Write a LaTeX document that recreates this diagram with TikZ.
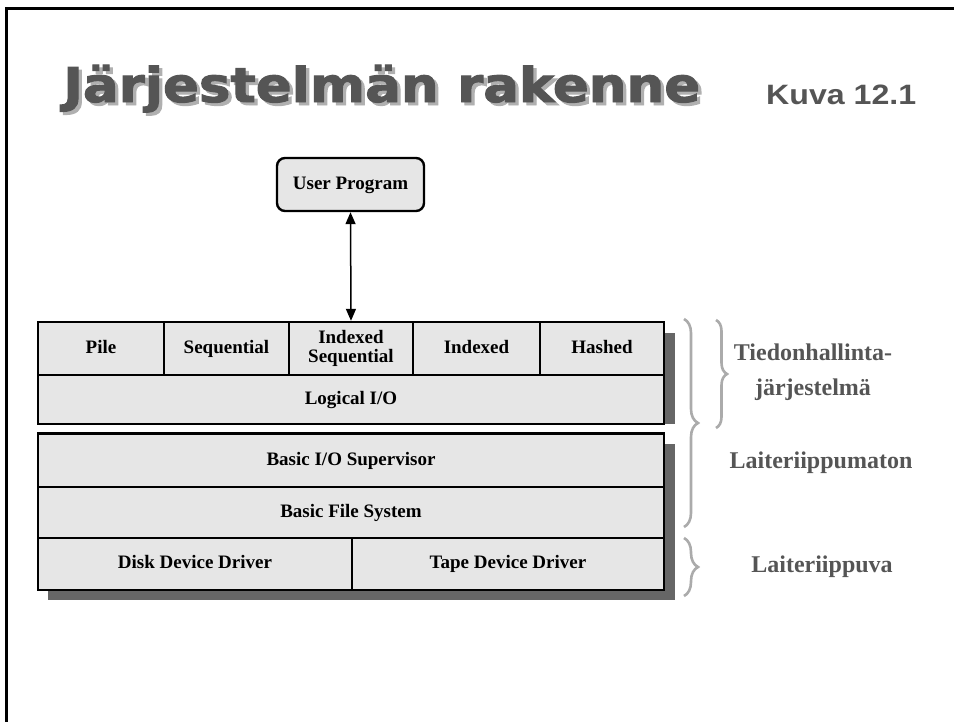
\documentclass[tikz,border=0pt]{standalone}
\usepackage{fontspec}
\setmainfont{Liberation Serif}
\newfontfamily\headfont{DejaVu Sans}[BoldFeatures={FakeBold=2}]
\newfontfamily\figfont{Liberation Sans}
\usetikzlibrary{arrows.meta,decorations.pathreplacing}
\definecolor{cellgray}{HTML}{E6E6E6}
\definecolor{shadegray}{HTML}{666666}
\definecolor{textgray}{HTML}{555555}
\definecolor{bracegray}{HTML}{ABABAB}
\definecolor{titleshade}{HTML}{B0B0B0}
% heading text with a soft offset shadow behind it
\newcommand{\shadowedhead}[1]{%
  \rlap{\kern3pt\raisebox{-3pt}{\color{titleshade}#1}}#1}
\tikzset{
  cell/.style={draw=black, fill=cellgray, line width=2.4pt, inner sep=0pt,
    align=center, text height=13pt, text depth=4pt,
    font=\fontsize{19}{20}\selectfont\bfseries},
  userbox/.style={cell, rounded corners=8pt},
  sidelabel/.style={text=textgray, align=center,
    font=\fontsize{24}{35}\selectfont\bfseries},
  grpbrace/.style={draw=bracegray, line width=2.6pt, decorate,
    decoration={brace, amplitude=#1}},
  shade/.style={fill=shadegray, draw=none},
  link/.style={line width=1.5pt, {Triangle[length=12pt,width=10pt]}-{Triangle[length=12pt,width=10pt]}}
}
\begin{document}
\begin{tikzpicture}[x=1pt, y=-1pt]
\useasboundingbox (0,0) rectangle (954,721);
\fill[white] (0,0) rectangle (954,721);

% slide frame: top and left edges only
\draw[line width=3pt, line cap=rect] (954,8.5) -- (6.5,8.5) -- (6.5,721);

% heading
\node[text=textgray, anchor=base west, inner sep=0pt] (title) at (63,102)
  {\resizebox{637pt}{\height}{\headfont\bfseries\fontsize{48}{52}\selectfont\shadowedhead{Järjestelmän rakenne}}};
\node[text=textgray, anchor=base west, inner sep=0pt] (kuva) at (766,104)
  {\resizebox{150pt}{\height}{\figfont\bfseries\fontsize{28}{30}\selectfont Kuva 12.1}};

% drop shadows of the layer stacks
\fill[shade] (664,333) rectangle (675,424);
\fill[shade] (664,444) rectangle (675,600);
\fill[shade] (48,590) rectangle (675,600);

% user program
\node[userbox, minimum width=147pt, minimum height=53pt] (user) at (350.5,184.5) {User Program};

% file organisation cells
\node[cell, minimum width=126pt, minimum height=53pt] (pile) at (101,348.5) {Pile};
\node[cell, minimum width=125pt, minimum height=53pt] (seq) at (226.5,348.5) {Sequential};
\node[cell, minimum width=124pt, minimum height=53pt, text height=, text depth=,
  font=\fontsize{19}{19}\selectfont\bfseries] (idxseq) at (351,348.5) {Indexed\\Sequential};
\node[cell, minimum width=127pt, minimum height=53pt] (idx) at (476.5,348.5) {Indexed};
\node[cell, minimum width=124pt, minimum height=53pt] (hash) at (602,348.5) {Hashed};
\node[cell, minimum width=626pt, minimum height=49pt] (lio) at (351,399.5) {Logical I/O};

% lower layers
\node[cell, minimum width=626pt, minimum height=54pt] (bios) at (351,460.5) {Basic I/O Supervisor};
\node[cell, minimum width=626pt, minimum height=51pt] (bfs) at (351,512.5) {Basic File System};
\node[cell, minimum width=314pt, minimum height=52pt] (disk) at (195,564) {Disk Device Driver};
\node[cell, minimum width=312pt, minimum height=52pt] (tape) at (508,564) {Tape Device Driver};

% program <-> file system
\draw[link] (user.south) -- (idxseq.north);

% grouping braces
\coordinate (b1t) at (684,319);
\coordinate (b1b) at (684,527);
\coordinate (b2t) at (716,320);
\coordinate (b2b) at (716,428);
\coordinate (b3t) at (684,538);
\coordinate (b3b) at (684,596);
\draw[grpbrace=14pt] (b1t) -- (b1b);
\draw[grpbrace=11pt] (b2t) -- (b2b);
\draw[grpbrace=14pt] (b3t) -- (b3b);

% group labels
\node[sidelabel] (fms) at (813,372) {Tiedonhallinta-\\järjestelmä};
\node[sidelabel] (indep) at (821,463) {Laiteriippumaton};
\node[sidelabel] (dep) at (822,567) {Laiteriippuva};
\end{tikzpicture}
\end{document}
